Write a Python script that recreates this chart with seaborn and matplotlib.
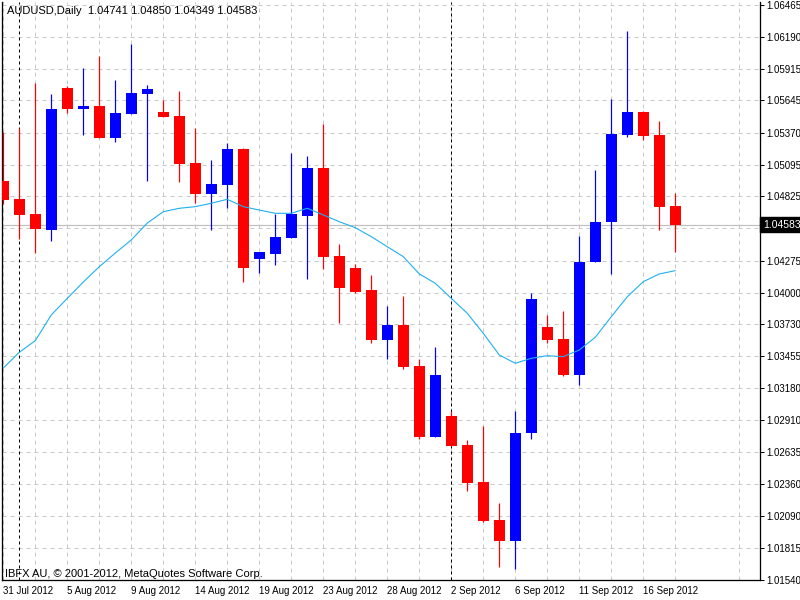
import numpy as np
import pandas as pd
import matplotlib
matplotlib.use("Agg")
import matplotlib.pyplot as plt
import matplotlib.transforms as mtransforms
import seaborn as sns

# ---------------- data ----------------
opens = [1.04956, 1.04802, 1.04673, 1.04539, 1.05752, 1.05575, 1.05598, 1.05326, 1.05529, 1.05700,
         1.05546, 1.05512, 1.05110, 1.04847, 1.04924, 1.05230, 1.04290, 1.04333, 1.04470, 1.04659,
         1.05067, 1.04314, 1.04211, 1.04023, 1.03597, 1.03723, 1.03372, 1.02767, 1.02944, 1.02696,
         1.02379, 1.02054, 1.01876, 1.02801, 1.03706, 1.03603, 1.03297, 1.04265, 1.04602, 1.05352,
         1.05546, 1.05350, 1.04741]
highs = [1.05375, 1.05409, 1.05795, 1.05700, 1.05769, 1.05923, 1.06026, 1.05820, 1.06129, 1.05778,
         1.05649, 1.05726, 1.05409, 1.05135, 1.05281, 1.05238, 1.04348, 1.04676, 1.05195, 1.05170,
         1.05444, 1.04416, 1.04245, 1.04151, 1.03886, 1.03971, 1.03434, 1.03537, 1.02987, 1.02738,
         1.02858, 1.02199, 1.02987, 1.03997, 1.03808, 1.03843, 1.04485, 1.05050, 1.05658, 1.06240,
         1.05558, 1.05469, 1.04850]
lows = [1.04756, 1.04462, 1.04339, 1.04445, 1.05540, 1.05352, 1.05326, 1.05292, 1.05529, 1.04956,
        1.05506, 1.04947, 1.04770, 1.04539, 1.04727, 1.04094, 1.04171, 1.04239, 1.04470, 1.04119,
        1.04205, 1.03743, 1.03999, 1.03571, 1.03434, 1.03349, 1.02750, 1.02767, 1.02690, 1.02304,
        1.02039, 1.01654, 1.01637, 1.02750, 1.03571, 1.03289, 1.03212, 1.04265, 1.04162, 1.05335,
        1.05309, 1.04539, 1.04349]
closes = [1.04796, 1.04667, 1.04547, 1.05572, 1.05575, 1.05598, 1.05326, 1.05538, 1.05709, 1.05743,
          1.05506, 1.05104, 1.04847, 1.04930, 1.05230, 1.04213, 1.04348, 1.04476, 1.04673, 1.05067,
          1.04308, 1.04042, 1.04005, 1.03597, 1.03723, 1.03366, 1.02767, 1.03295, 1.02690, 1.02373,
          1.02048, 1.01876, 1.02798, 1.03946, 1.03597, 1.03297, 1.04262, 1.04607, 1.05358, 1.05546,
          1.05344, 1.04736, 1.04583]
ma_values = [1.03355, 1.03489, 1.03589, 1.03809, 1.03951, 1.04091, 1.04222, 1.04339, 1.04451, 1.04596,
             1.04693, 1.04722, 1.04736, 1.04765, 1.04799, 1.04736, 1.04707, 1.04679, 1.04679, 1.04722,
             1.04665, 1.04607, 1.04556, 1.04479, 1.04393, 1.04308, 1.04160, 1.04080, 1.03951, 1.03823,
             1.03652, 1.03466, 1.03395, 1.03438, 1.03460, 1.03452, 1.03509, 1.03618, 1.03794, 1.03965,
             1.04094, 1.04160, 1.04188]

x_tick_labels = ["31 Jul 2012", "5 Aug 2012", "9 Aug 2012", "14 Aug 2012", "19 Aug 2012",
                 "23 Aug 2012", "28 Aug 2012", "2 Sep 2012", "6 Sep 2012", "11 Sep 2012",
                 "16 Sep 2012"]
y_tick_labels = ["1.06465", "1.06190", "1.05915", "1.05645", "1.05370", "1.05095", "1.04825",
                 "1.04550", "1.04275", "1.04000", "1.03730", "1.03455", "1.03180", "1.02910",
                 "1.02635", "1.02360", "1.02090", "1.01815", "1.01540"]
separator_bars = [1, 28]
title_text = "AUDUSD,Daily  1.04741 1.04850 1.04349 1.04583"
copyright_text = "IBFX AU, \u00a9 2001-2012, MetaQuotes Software Corp."
last_price = 1.04583

# ---------------- style ----------------
sns.set_theme(style="white")
plt.rcParams['font.family'] = ['Liberation Sans', 'DejaVu Sans']

df = pd.DataFrame({"bar": np.arange(len(opens)), "open": opens, "high": highs,
                   "low": lows, "close": closes, "ma": ma_values})
df["bull"] = df["close"] >= df["open"]
df["color"] = np.where(df["bull"], "#0000FF", "#FF0000")

W, H = 800, 600
fig = plt.figure(figsize=(8, 6), dpi=100)
fig.patch.set_facecolor("white")
ax = fig.add_axes([2 / W, 20 / H, 758 / W, 578 / H])
ax.set_facecolor("white")

xmin = -1.3 / 16
ax.set_xlim(xmin, xmin + 758 / 16)
ax.set_ylim(1.01540, 1.06488)

px = 72 / 100  # one pixel in points
grid_col = "#c8c8c8"

# grid
yvals = [float(v) for v in y_tick_labels]
ax.set_yticks(yvals)
ax.set_yticklabels(y_tick_labels)
ax.set_xticks(np.arange(0, 4 * len(x_tick_labels), 4))
ax.set_xticklabels(x_tick_labels, ha="left")
ax.set_xticks(np.arange(2, 48, 4), minor=True)
ax.grid(which="both", axis="both", color=grid_col, linestyle=(0, (4, 4)), linewidth=px)
ax.set_axisbelow(True)

# bid line
ax.axhline(last_price, color="#c0c0c0", linewidth=1.2 * px, zorder=1)

# period separators
for b in separator_bars:
    ax.axvline(b, color="black", linestyle=(0, (3, 3)), linewidth=px, zorder=1.5)

# candles
ax.vlines(df["bar"], df["low"], df["high"], colors=df["color"], linewidth=1.2 * px, zorder=2)
body_h = (df["close"] - df["open"]).abs()
body_h = np.maximum(body_h, 0.00009)
ax.bar(df["bar"], body_h, bottom=np.minimum(df["open"], df["close"]), width=11 / 16,
       color=df["color"], linewidth=0, zorder=3)

# moving average
sns.lineplot(data=df, x="bar", y="ma", ax=ax, color="#1cb0f0", linewidth=1.1 * px, zorder=4)
ax.set_xlabel("")
ax.set_ylabel("")

# axes / ticks
for s in ["left", "right", "bottom"]:
    ax.spines[s].set_visible(True)
    ax.spines[s].set_color("black")
    ax.spines[s].set_linewidth(1.3 * px)
ax.spines["top"].set_visible(False)
ax.yaxis.tick_right()
ax.tick_params(axis="y", which="major", direction="out", length=4 * px, width=px,
               color="black", labelsize=7, pad=1.5, labelcolor="black")
ax.tick_params(axis="x", which="major", direction="out", length=4 * px, width=px,
               color="black", labelsize=7, pad=1.5, labelcolor="black")
ax.tick_params(axis="x", which="minor", length=0)

# texts
fig.text(7 / W, 1 - 11 / H, title_text, fontsize=8, color="black", va="center", ha="left")
fig.text(5 / W, 1 - 574 / H, copyright_text, fontsize=8, color="black", va="center", ha="left")

# last price box
trans = mtransforms.blended_transform_factory(ax.transAxes, ax.transData)
ax.text(1.0 + 3 / 758, last_price, "1.04583", transform=trans, fontsize=7.5, color="white",
        va="center", ha="left", zorder=10, clip_on=False,
        bbox=dict(boxstyle="square,pad=0.25", facecolor="black", edgecolor="black"))

fig.savefig("out.png", dpi=100, facecolor="white")
